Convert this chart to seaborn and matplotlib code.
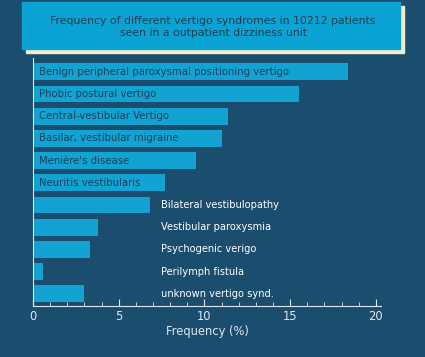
import matplotlib
matplotlib.use('Agg')
import matplotlib.pyplot as plt
import seaborn as sns
import pandas as pd
from matplotlib.patches import Rectangle

# values
syndromes = ["Benign peripheral paroxysmal positioning vertigo",
             "Phobic postural vertigo",
             "Central-vestibular Vertigo",
             "Basilar, vestibular migraine",
             "Menière's disease",
             "Neuritis vestibularis",
             "Bilateral vestibulopathy",
             "Vestibular paroxysmia",
             "Psychogenic verigo",
             "Perilymph fistula",
             "unknown vertigo synd."]
freq = [18.4, 15.5, 11.4, 11.0, 9.5, 7.7, 6.8, 3.8, 3.3, 0.6, 3.0]
inside = [True] * 6 + [False] * 5

bg = '#1b4d6f'
bar_col = '#12a3d2'
light = '#dfe8ee'

df = pd.DataFrame({'syndrome': syndromes, 'freq': freq})

fig = plt.figure(figsize=(4.25, 3.57), dpi=100, facecolor=bg)
ax = fig.add_axes([33/425, 1 - 306/357, 348/425, 248/357])
ax.set_facecolor(bg)

sns.barplot(data=df, x='freq', y='syndrome', color=bar_col, width=0.76,
            saturation=1, ax=ax, edgecolor='none')

ax.set_xlim(0, 20.3)
ax.set_ylim(len(syndromes) - 0.45, -0.62)

for i, (name, v, ins) in enumerate(zip(syndromes, freq, inside)):
    if ins:
        ax.text(0.35, i, name, va='center', ha='left', fontsize=7.25, color='#17405c')
    else:
        ax.text(7.45, i, name, va='center', ha='left', fontsize=7.1, color='white')

ax.set_yticks([])
ax.set_ylabel('')
ax.set_xticks([0, 5, 10, 15, 20])
ax.set_xticks(range(0, 21), minor=True)
ax.tick_params(axis='x', which='major', direction='in', length=5, color=light,
               labelcolor=light, labelsize=8.3, pad=3)
ax.tick_params(axis='x', which='minor', direction='in', length=3, color=light)
ax.set_xlabel('Frequency (%)', color=light, fontsize=8.3, labelpad=1)

for s in ['top', 'right']:
    ax.spines[s].set_visible(False)
ax.spines['bottom'].set_color(light)
ax.spines['left'].set_color(light)
ax.spines['left'].set_linewidth(0.8)

# title box with cream shadow
fig.patches.append(Rectangle((26/425, 1 - 53/357), 378/425, 47/357,
                             transform=fig.transFigure, color='#f3ecc8', zorder=0))
fig.patches.append(Rectangle((22/425, 1 - 49/357), 378/425, 47/357,
                             transform=fig.transFigure, color='#0aa3d3', zorder=1))
fig.text(213/425, 1 - 27/357,
         "Frequency of different vertigo syndromes in 10212 patients\nseen in a outpatient dizziness unit",
         ha='center', va='center', fontsize=7.8, color='#1e3c52', linespacing=1.25)

fig.savefig('out.png', dpi=100, facecolor=bg)
